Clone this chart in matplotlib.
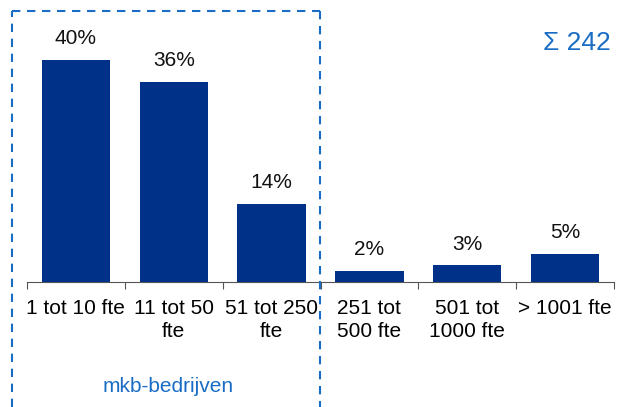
import matplotlib
matplotlib.use("Agg")
import matplotlib.pyplot as plt
from matplotlib.lines import Line2D

plt.rcParams["font.family"] = ["Liberation Sans", "DejaVu Sans"]

# data
categories = ["1 tot 10 fte", "11 tot 50\nfte", "51 tot 250\nfte",
              "251 tot\n500 fte", "501 tot\n1000 fte", "> 1001 fte"]
shares = [40, 36, 14, 2, 3, 5]
total = 242

BAR_COLOR = "#003189"
BLUE = "#1a6dc4"

W, H = 625, 407
fig = plt.figure(figsize=(W / 100, H / 100), dpi=100)

# axes box in pixels: left 27, right 614, baseline 282, top 10
ax = fig.add_axes([27 / W, (H - 282) / H, (614 - 27) / W, (282 - 10) / H])
x = range(len(categories))
bars = ax.bar(x, shares, width=0.70, color=BAR_COLOR)
ax.set_xlim(-0.5, len(categories) - 0.5)
ax.set_ylim(0, 40 * 272 / 222)

for b, v in zip(bars, shares):
    ax.annotate(f"{v}%", (b.get_x() + b.get_width() / 2, b.get_height()),
                xytext=(0, 8.5), textcoords="offset points",
                ha="center", va="bottom", fontsize=15, color="#111111")

# category boundaries as ticks
for s in ["top", "right", "left"]:
    ax.spines[s].set_visible(False)
ax.spines["bottom"].set_color("#555555")
ax.set_yticks([])
ax.set_xticks([i - 0.5 for i in range(len(categories) + 1)], minor=False)
ax.set_xticklabels([])
ax.tick_params(axis="x", which="major", length=5, color="#555555", direction="out")
ax.set_xticks(list(x), minor=True)
ax.set_xticklabels(categories, minor=True, fontsize=15, linespacing=1.3)
ax.tick_params(axis="x", which="minor", length=0, pad=12)

# dashed box around mkb categories
dash = dict(color=BLUE, lw=1.5, linestyle=(0, (4, 3.2)))
l, r, t = 12 / W, 320 / W, 1 - 11 / H
fig.add_artist(Line2D([l, l], [0, t], transform=fig.transFigure, **dash))
fig.add_artist(Line2D([l, r], [t, t], transform=fig.transFigure, **dash))
fig.add_artist(Line2D([r, r], [t, 0], transform=fig.transFigure, **dash))

fig.text(168 / W, 1 - 386 / H, "mkb-bedrijven", ha="center", va="center",
         fontsize=15, color=BLUE)
fig.text(611 / W, 1 - 43 / H, f"Σ {total}", ha="right", va="center",
         fontsize=19, color=BLUE)

fig.savefig("out.png", dpi=100)
